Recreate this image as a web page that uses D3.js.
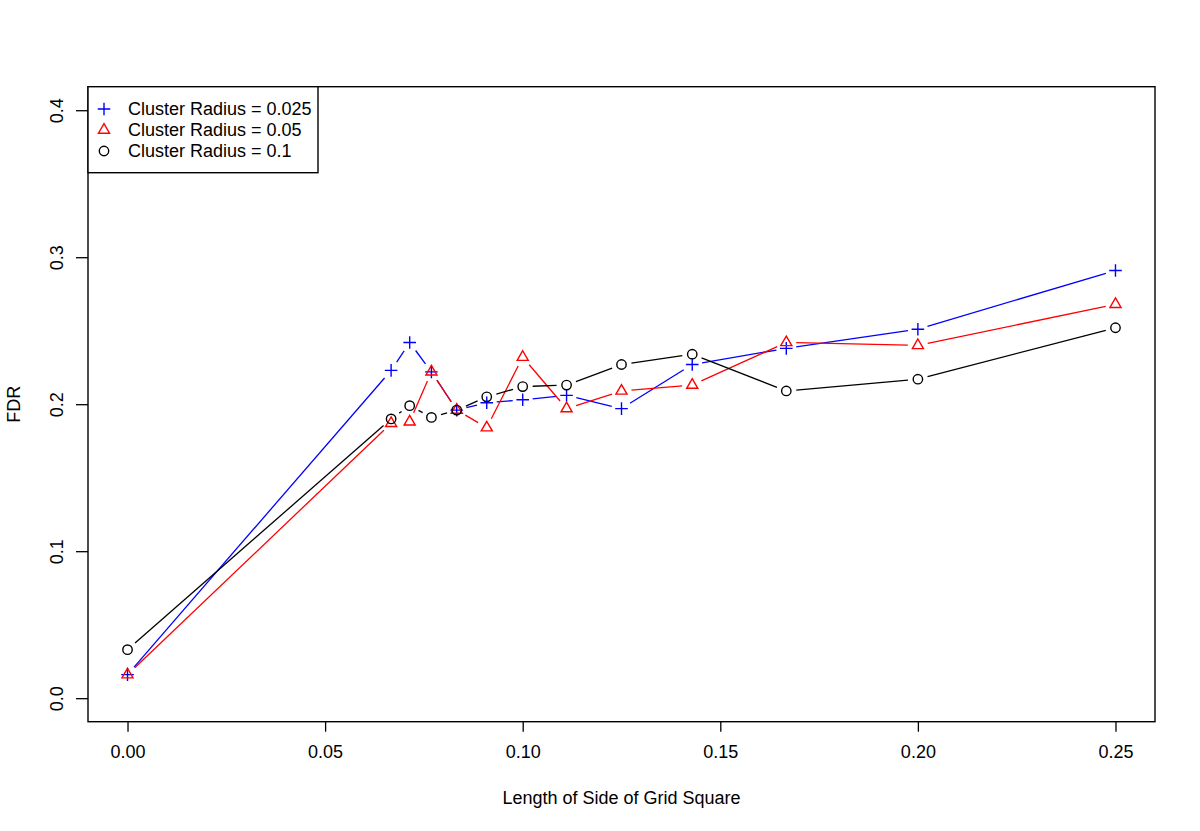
<!DOCTYPE html>
<html>
<head>
<meta charset="utf-8">
<script src="https://cdn.jsdelivr.net/npm/d3@7"></script>
<style>
  body { margin: 0; background: #fff; }
  text { font-family: "Liberation Sans", Arial, Helvetica, sans-serif; }
</style>
</head>
<body>
<div id="chart"></div>
<script>
// grid side lengths (1/15, 1/14, ...)
var sideLength = [0, 0.0667, 0.0714, 0.0769, 0.0833, 0.0909, 0.1, 0.1111, 0.125, 0.1429, 0.1667, 0.2, 0.25];

// FDR for each cluster radius
var fdrR025 = [0.016, 0.223, 0.242, 0.222, 0.196, 0.201, 0.203, 0.206, 0.197, 0.227, 0.238, 0.251, 0.291];
var fdrR05  = [0.016, 0.187, 0.188, 0.222, 0.196, 0.184, 0.232, 0.197, 0.209, 0.213, 0.242, 0.240, 0.268];
var fdrR1   = [0.033, 0.190, 0.199, 0.191, 0.196, 0.205, 0.212, 0.213, 0.227, 0.234, 0.209, 0.217, 0.252];

var seriesNames = ["Cluster Radius = 0.025", "Cluster Radius = 0.05", "Cluster Radius = 0.1"];
var xTicks = [0, 0.05, 0.10, 0.15, 0.20, 0.25];
var yTicks = [0, 0.1, 0.2, 0.3, 0.4];

var width = 1200, height = 831;
var box = { left: 88, right: 1155, top: 86.7, bottom: 721.7 };
var fontSize = 18;

var svg = d3.select("#chart").append("svg")
    .attr("width", width)
    .attr("height", height);

// R style axis ranges (4% padding)
var x = d3.scaleLinear().domain([-0.01, 0.26]).range([box.left, box.right]);
var y = d3.scaleLinear().domain([-0.016, 0.416]).range([box.bottom, box.top]);

var series = [
    { name: seriesNames[0], values: fdrR025, color: "#0000ff", shape: "plus" },
    { name: seriesNames[1], values: fdrR05, color: "#ff0000", shape: "triangle" },
    { name: seriesNames[2], values: fdrR1, color: "#000000", shape: "circle" }
];

// marker paths
function markerPath(shape) {
    if (shape == "plus") return "M-6.3,0H6.3M0,-6.3V6.3";
    if (shape == "triangle") {
        var r = 6.4, xc = r * Math.sqrt(3) / 2;
        return "M0," + (-r) + "L" + xc + "," + (r / 2) + "L" + (-xc) + "," + (r / 2) + "Z";
    }
    return null;
}

function drawMarker(g, shape, color, px, py) {
    if (shape == "circle") {
        g.append("circle").attr("cx", px).attr("cy", py).attr("r", 4.7)
            .attr("fill", "none").attr("stroke", color).attr("stroke-width", 1.4);
    } else {
        g.append("path").attr("d", markerPath(shape))
            .attr("transform", "translate(" + px + "," + py + ")")
            .attr("fill", "none").attr("stroke", color).attr("stroke-width", 1.4);
    }
}

// plot lines: type = "b", segments with a gap around each point
var gap = 10;
series.forEach(function (s) {
    var g = svg.append("g");
    var pts = sideLength.map(function (d, i) { return [x(d), y(s.values[i])]; });
    for (var i = 0; i < pts.length - 1; i++) {
        var a = pts[i], b = pts[i + 1];
        var dx = b[0] - a[0], dy = b[1] - a[1];
        var len = Math.sqrt(dx * dx + dy * dy);
        if (len <= 2 * gap) continue;
        var ux = dx / len, uy = dy / len;
        g.append("line")
            .attr("x1", a[0] + ux * gap).attr("y1", a[1] + uy * gap)
            .attr("x2", b[0] - ux * gap).attr("y2", b[1] - uy * gap)
            .attr("stroke", s.color).attr("stroke-width", 1.3);
    }
    pts.forEach(function (p) { drawMarker(g, s.shape, s.color, p[0], p[1]); });
});

// box
svg.append("rect")
    .attr("x", box.left).attr("y", box.top)
    .attr("width", box.right - box.left).attr("height", box.bottom - box.top)
    .attr("fill", "none").attr("stroke", "#000").attr("stroke-width", 1.4);

// x axis
var xAxis = svg.append("g")
    .attr("transform", "translate(0," + box.bottom + ")")
    .call(d3.axisBottom(x).tickValues(xTicks).tickSize(10).tickPadding(14).tickFormat(d3.format(".2f")));
xAxis.select(".domain").remove();
xAxis.selectAll("line").attr("stroke-width", 1.3);
xAxis.selectAll("text").attr("font-size", fontSize).attr("fill", "#000");

// y axis, labels rotated like R's las = 0
var yAxis = svg.append("g")
    .attr("transform", "translate(" + box.left + ",0)")
    .call(d3.axisLeft(y).tickValues(yTicks).tickSize(12).tickFormat(d3.format(".1f")));
yAxis.select(".domain").remove();
yAxis.selectAll("line").attr("stroke-width", 1.3);
yAxis.selectAll("text")
    .attr("font-size", fontSize).attr("fill", "#000")
    .attr("x", 0).attr("y", 0).attr("text-anchor", "middle")
    .attr("transform", "translate(-31,0) rotate(-90)")
    .attr("dy", "0.35em");

// axis titles
svg.append("text")
    .attr("x", (box.left + box.right) / 2).attr("y", 804)
    .attr("text-anchor", "middle").attr("font-size", fontSize)
    .text("Length of Side of Grid Square");

svg.append("text")
    .attr("transform", "translate(20," + ((box.top + box.bottom) / 2) + ") rotate(-90)")
    .attr("text-anchor", "middle").attr("font-size", fontSize)
    .text("FDR");

// legend
var legend = svg.append("g");
legend.append("rect")
    .attr("x", box.left).attr("y", box.top)
    .attr("width", 230).attr("height", 86)
    .attr("fill", "#fff").attr("stroke", "#000").attr("stroke-width", 1.4);
series.forEach(function (s, i) {
    var ly = 109 + i * 21;
    drawMarker(legend, s.shape, s.color, 104, ly);
    legend.append("text")
        .attr("x", 128).attr("y", ly).attr("dy", "0.35em")
        .attr("font-size", fontSize)
        .text(s.name);
});
</script>
</body>
</html>
